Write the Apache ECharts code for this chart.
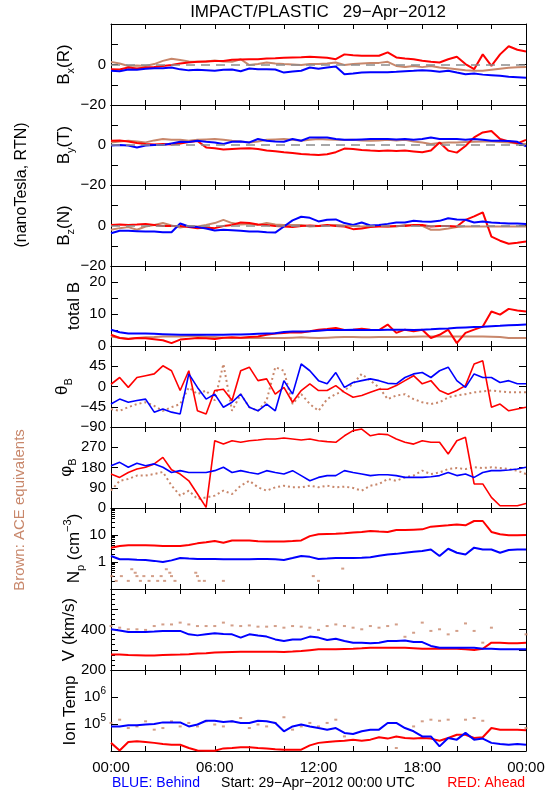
<!DOCTYPE html>
<html><head><meta charset="utf-8">
<script src="https://cdn.jsdelivr.net/npm/echarts@6/dist/echarts.min.js"></script>
<style>html,body{margin:0;padding:0;background:#fff}#c{width:550px;height:800px}</style>
</head><body><div id="c"></div>
<script>
// ---------- data (hours of 29-Apr-2012) ----------
const TIME=[0,0.5,1,1.5,2,2.5,3,3.5,4,4.5,5,5.5,6,6.5,7,7.5,8,8.5,9,9.5,10,10.5,11,11.5,12,12.5,13,13.5,14,14.5,15,15.5,16,16.5,17,17.5,18,18.5,19,19.5,20,20.5,21,21.5,22,22.5,23,23.5,24];
const X_TICK_LABELS=['00:00','06:00','12:00','18:00','00:00'];

const bxAhead=[-2.3,-2.5,-1.5,-2.0,-1.5,-1.2,-0.7,-0.2,0.5,1.0,1.3,1.5,1.7,1.7,2.3,2.5,2.6,2.6,3.0,3.1,3.3,3.5,3.6,3.8,3.6,3.3,2.6,5.0,4.6,4.3,4.3,4.3,6.0,3.5,3.0,2.6,1.8,1.3,1.0,2.6,3.8,0.2,-2.3,5.0,-0.7,5.0,9.0,7.3,6.4];
const bxBehind=[-3.1,-3.3,-2.5,-2.6,-2.1,-1.8,-1.8,-1.5,-2.4,-2.9,-2.6,-2.8,-3.1,-2.6,-2.5,-3.3,-2.0,-2.3,-2.3,-2.5,-4.0,-3.5,-3.1,-1.5,-2.1,-1.5,-1.0,-4.8,-4.5,-4.0,-3.8,-3.8,-3.8,-3.6,-3.3,-3.1,-2.8,-3.1,-3.6,-3.1,-4.0,-4.8,-4.5,-5.0,-5.3,-5.6,-6.0,-6.3,-6.6];
const bxAce=[1.3,0.5,-0.7,-0.5,-0.7,0.2,1.8,2.8,2.2,1.5,1.3,1.5,2.0,1.5,1.3,2.6,-0.3,0.3,1.0,0.5,0.2,0.0,-0.3,0.2,0.2,0.5,1.0,-0.2,0.2,0.5,0.7,0.8,1.3,-0.7,-1.2,-0.7,-1.3,-0.7,-1.5,-1.8,-2.3,-2.8,-3.1,-3.1,-2.6,-2.1,-1.6,-1.4,-1.2];

const byAhead=[2.1,2.3,1.8,1.0,0.5,0.3,0.5,0.2,0.8,1.5,2.0,-1.2,-1.6,-2.3,-2.0,-1.8,-1.6,-2.0,-2.8,-3.1,-3.6,-4.0,-4.5,-4.8,-5.0,-4.6,-3.6,-1.8,-2.0,-2.5,-2.8,-3.0,-2.8,-3.0,-2.8,-3.2,-3.6,-2.8,1.3,-2.8,-3.8,-0.5,3.8,6.3,7.0,3.0,1.8,0.8,2.6];
const byBehind=[-0.3,0.0,-0.3,-1.2,-0.3,0.0,0.0,0.8,1.6,1.5,2.1,1.6,1.3,0.5,1.6,1.8,1.3,3.0,2.1,1.8,1.6,3.0,2.1,3.8,3.8,3.8,3.0,2.6,2.6,2.8,3.0,3.0,3.0,2.8,3.0,2.6,3.0,3.8,3.0,3.0,3.0,2.6,3.0,2.6,2.1,2.1,2.0,1.6,-0.7];
const byAce=[1.3,1.8,2.1,1.8,1.3,2.3,3.0,2.6,2.6,2.1,2.6,2.8,3.0,2.6,2.1,1.8,1.3,1.8,2.6,2.8,3.0,2.6,2.1,2.6,3.0,2.8,2.6,2.5,2.6,2.3,2.1,2.3,2.6,2.3,2.6,1.8,1.3,0.5,1.0,1.3,1.3,1.5,1.6,1.7,1.8,1.5,1.3,0.8,0.5];

const bzAhead=[0.3,0.5,0.3,0.5,0.8,0.3,-0.2,-0.2,-0.2,-0.8,-1.3,-1.0,-1.3,-0.3,0.3,1.5,1.2,0.5,0.3,-0.2,-0.5,-0.8,-0.2,0.0,-0.2,0.3,-0.2,-0.5,-1.8,-1.5,-0.8,-0.5,-0.5,-0.2,-0.2,0.3,0.3,-0.5,-0.2,-0.3,-0.5,2.8,4.5,6.5,-5.5,-7.5,-9.0,-8.5,-7.9];
const bzBehind=[-3.8,-2.6,-2.6,-2.8,-3.0,-3.0,-3.3,-3.3,1.0,-0.5,-0.8,-1.5,-2.5,-2.1,-2.3,-2.6,-3.0,-3.0,-3.3,-3.5,-0.5,2.5,4.3,3.8,2.0,2.8,3.0,1.2,0.3,1.5,0.0,0.3,0.8,1.5,1.5,2.3,2.0,1.8,2.3,3.6,3.0,2.8,1.5,2.0,1.5,1.2,1.0,1.0,0.8];
const bzAce=[-2.1,-1.3,-0.8,-2.1,-0.5,0.3,1.2,0.0,-1.0,-0.3,-0.5,0.3,1.2,2.8,1.2,0.5,0.8,0.3,1.2,0.5,0.3,0.3,0.3,-0.5,-0.2,0.0,0.3,0.0,-0.2,-0.5,-0.2,-0.3,-0.5,-0.5,0.3,0.0,-0.2,-2.1,-2.1,-1.5,-0.8,-0.5,-0.5,-0.5,-0.5,-0.5,-0.5,-0.5,-0.5];

const btAhead=[3.5,2.5,2.2,2.5,2.4,2.1,1.8,0.9,2.0,2.3,2.5,2.4,2.2,2.6,2.7,2.6,2.8,3.0,3.5,3.9,4.1,4.3,4.2,4.6,5.1,5.3,5.6,5.0,5.1,5.4,5.1,5.0,6.7,4.1,5.1,4.6,5.1,2.5,3.5,5.1,0.9,4.1,5.1,6.1,10.8,9.8,11.6,11.1,10.8];
const btBehind=[5.1,4.3,3.9,3.9,3.9,3.8,3.7,3.6,3.5,3.5,3.5,3.5,3.5,3.5,3.6,3.6,3.7,3.8,3.9,4.0,4.4,4.5,4.5,4.6,4.8,5.0,5.0,5.0,5.1,5.0,5.0,5.0,5.1,5.1,5.1,5.0,5.1,5.2,5.4,5.5,5.7,5.8,5.9,6.0,6.2,6.3,6.5,6.6,6.7];
const btAce=[3.0,2.6,2.3,2.5,2.7,2.8,3.0,3.0,3.0,3.1,3.2,2.9,2.8,2.6,2.5,2.5,2.5,2.5,2.5,2.5,2.5,2.6,2.7,2.6,2.5,2.6,2.7,2.8,2.8,2.7,2.7,2.8,2.8,2.8,2.8,2.9,3.0,3.0,3.0,3.0,3.0,3.0,3.0,3.0,2.9,2.8,2.5,2.5,2.5];

const thAhead=[5,20,-2,20,24,28,46,35,-9,35,-54,-61,-9,-6,-31,35,43,13,17,-17,-2,-35,-9,6,-9,-9,2,-13,-24,-20,-13,-6,-6,2,13,24,6,13,-9,-17,-9,2,50,57,-46,-39,-54,-50,-46];
const thBehind=[-39,-28,-35,-31,-28,-57,-50,-57,-61,28,-2,-28,-17,-46,-35,-17,-46,-54,-39,-54,13,-17,50,35,13,6,31,-2,9,13,17,13,7,6,20,28,31,20,35,43,13,-2,28,20,20,9,13,6,6];
const thAce=[-50,-54,-46,-39,-35,-43,-54,-46,-39,-2,-17,-9,-31,50,-54,-17,-46,-54,-31,43,35,-39,-17,-39,-54,-28,-17,-9,6,28,13,-2,-28,-20,-17,-28,-35,-39,-35,-24,-20,-17,-13,-11,-9,-11,-13,-13,-13];

const phAhead=[151,136,158,173,181,196,225,170,151,121,62,3,299,284,299,292,299,302,307,307,311,307,302,307,299,295,292,321,344,351,321,329,326,307,292,284,299,292,292,240,299,314,107,107,47,10,10,10,20];
const phBehind=[188,203,181,199,188,196,181,158,166,158,158,158,166,181,158,166,158,151,166,158,151,166,144,121,136,144,144,166,158,151,144,148,148,144,136,136,136,139,144,158,144,151,136,158,166,166,169,173,181];
const phAce=[77,121,129,144,144,151,160,100,55,77,40,47,55,77,62,99,121,92,77,92,99,92,92,99,92,99,92,95,89,77,99,107,129,121,136,144,166,151,158,173,178,173,181,178,181,178,173,166,151];

const npAhead=[3.4,3.9,4.2,4.2,4.2,4.1,3.9,3.9,3.9,4.3,4.9,5.4,6.0,5.2,6.3,6.3,6.3,5.9,5.7,5.7,5.8,6.0,6.3,9.1,10.6,11.0,11.2,11.5,12.3,13.0,14.2,13.5,13.0,15.4,15.4,15.8,16.2,20.4,21.6,22.9,24.7,22.9,33,33,13,10.6,9.7,9.7,10];
const npBehind=[1.67,1.26,1.26,1.22,1.19,1.1,1.0,1.15,1.41,1.35,1.3,1.3,1.3,1.26,1.26,1.26,1.26,1.3,1.3,1.26,1.19,1.4,1.67,1.55,1.3,1.35,1.41,1.41,1.41,1.45,1.5,1.7,1.9,2.0,2.2,2.4,2.55,2.9,1.67,3.1,2.2,1.9,3.4,2.9,2.9,2.2,2.8,2.9,2.9];
const npAceTime=[0.05,0.3,0.6,1.0,1.2,1.4,1.5,1.7,1.9,2.2,2.4,2.7,2.9,3.1,3.2,3.4,3.5,3.7,4.9,5.0,5.1,5.4,6.5,11.7,12.0,13.4];
const npAce=[0.30,0.20,0.30,0.20,0.54,0.40,0.30,0.20,0.30,0.20,0.30,0.20,0.30,0.20,0.54,0.40,0.30,0.20,0.40,0.30,0.20,0.20,0.20,0.30,0.20,0.57];

const vAhead=[277,276,274,273,272,272,274,275,276,278,281,283,286,288,289,290,290,290,290,290,289,291,294,298,302,302,302,304,305,307,310,310,310,310,310,308,305,305,305,305,305,302,299,305,335,335,332,332,335];
const vBehind=[401,395,388,388,388,390,393,393,393,376,371,376,381,378,376,360,376,370,365,351,343,351,351,365,360,348,354,343,335,335,332,335,343,343,346,338,338,319,310,310,310,310,310,305,305,302,302,302,302];
const vAce=[417,409,401,401,398,417,425,425,434,425,417,417,417,434,420,417,420,414,414,417,409,417,414,409,398,417,425,417,409,401,417,409,417,425,364,384,434,393,401,376,393,430,393,335,409,null,null,null,376];

const tAhead=[20000,10500,21400,22900,21400,20000,18200,17000,17000,12900,10500,10300,10200,12500,12900,13800,13800,12900,12300,11500,11200,11200,11200,16200,20000,21400,22900,24000,26300,24000,26300,32400,28800,34700,30200,28800,30200,28800,24000,30200,39800,39800,30200,32400,70800,61700,61700,61700,58900];
const tBehind=[81300,81300,89100,89100,95500,100000,114800,114800,114800,81300,95500,131800,131800,117500,125900,109600,109600,131800,125900,109600,53700,81300,95500,81300,70800,61700,70800,46800,42700,53700,61700,61700,109600,109600,70800,53700,34700,34700,14800,30200,26300,46800,26300,28800,20000,18200,17000,18200,17000];
const tAce=[109600,144500,70800,81300,125900,61700,70800,125900,81300,109600,81300,125900,95500,81300,125900,166000,70800,95500,81300,109600,177800,61700,81300,109600,81300,109600,144500,34700,null,null,null,null,null,12900,null,81300,125900,144500,131800,144500,null,144500,166000,131800,null,null,null,null,70800];

// ---------- styling ----------
const FONT='Liberation Sans';
const RED='#ff0000', BLUE='#0000ff', BROWN='#c8876b', BLACK='#000';
const TOPS=[24,105,185,266,346,427,508,589,670,751];
const LEFT=111, RIGHT=24;

function pair(v){return TIME.map((t,i)=>[t,v[i]]);}
function pairT(t,v){return t.map((x,i)=>[x,v[i]]);}
function fmtNum(v){return String(v).replace('-','\u2212');}
function near(a,b){return Math.abs(a-b)<=1e-6*Math.max(1,Math.abs(b));}

const panels=[
 {y:{type:'value',min:-20,max:20,interval:10}, labels:[0,-20], zero:true,
  s:[['line',pair(bxAce),BROWN,2],['line',pair(bxAhead),RED,2],['line',pair(bxBehind),BLUE,2]]},
 {y:{type:'value',min:-20,max:20,interval:10}, labels:[0,-20], zero:true,
  s:[['line',pair(byAce),BROWN,2],['line',pair(byAhead),RED,2],['line',pair(byBehind),BLUE,2]]},
 {y:{type:'value',min:-20,max:20,interval:10}, labels:[0,-20], zero:true,
  s:[['line',pair(bzAce),BROWN,2],['line',pair(bzAhead),RED,2],['line',pair(bzBehind),BLUE,2]]},
 {y:{type:'value',min:0,max:25,interval:5}, labels:[0,10,20],
  s:[['line',pair(btAce),BROWN,2],['line',pair(btAhead),RED,2],['line',pair(btBehind),BLUE,2]]},
 {y:{type:'value',min:-90,max:90,interval:45}, labels:[-90,-45,0,45],
  s:[['dot',pair(thAce),BROWN,2],['line',pair(thAhead),RED,1.6],['line',pair(thBehind),BLUE,1.6]]},
 {y:{type:'value',min:0,max:360,interval:90}, labels:[0,90,180,270],
  s:[['dot',pair(phAce),BROWN,2],['line',pair(phAhead),RED,1.6],['line',pair(phBehind),BLUE,1.6]]},
 {y:{type:'log',logBase:10,min:0.1,max:100}, labels:[1,10], minorLog:true,
  s:[['scatter',pairT(npAceTime,npAce),BROWN,2],['line',pair(npAhead),RED,2],['line',pair(npBehind),BLUE,2]]},
 {y:{type:'value',min:200,max:600,interval:100}, labels:[200,400], minorLin:4,
  s:[['scatter',pair(vAce),BROWN,2],['line',pair(vAhead),RED,2],['line',pair(vBehind),BLUE,2]]},
 {y:{type:'log',logBase:10,min:1e4,max:1e7}, labels:[1e5,1e6], pow:true,
  s:[['scatter',pair(tAce),BROWN,2],['line',pair(tAhead),RED,2],['line',pair(tBehind),BLUE,2]]}
];

const NAMES=[
 {t:'{m|B}{s|x}{m|(R)}',x:64},{t:'{m|B}{s|y}{m|(T)}',x:64},{t:'{m|B}{s|z}{m|(N)}',x:64},
 {t:'{m|total B}',x:74},{t:'{m|\u03b8}{s|B}',x:62},{t:'{m|\u03c6}{s|B}',x:66},
 {t:'{m|N}{s|p}{m| (cm}{u|\u22123}{m|)}',x:74},{t:'{m|V (km/s)}',x:69},{t:'{m|Ion Temp}',x:70}
];

const grids=[],xAxes=[],yAxes=[],series=[],graphics=[];
const tickStyle={color:BLACK,width:1};
const labelBase={color:BLACK,fontFamily:FONT,fontSize:15};

panels.forEach((p,i)=>{
  const last=(i===panels.length-1);
  grids.push({left:LEFT,right:RIGHT,top:TOPS[i],height:TOPS[i+1]-TOPS[i],show:false,containLabel:false});
  ['bottom','top'].forEach(pos=>{
    xAxes.push({type:'value',gridIndex:i,position:pos,min:0,max:24,interval:2,
      axisLine:{show:true,onZero:false,lineStyle:tickStyle},
      axisTick:{show:true,inside:true,length:5,lineStyle:tickStyle},
      axisLabel:{show:last&&pos==='bottom',margin:9,...labelBase,
        formatter:v=>(Math.round(v)%6===0?X_TICK_LABELS[Math.round(v)/6]:'')},
      splitLine:{show:false}});
  });
  ['left','right'].forEach(pos=>{
    const ax=Object.assign({},p.y,{gridIndex:i,position:pos,
      axisLine:{show:true,onZero:false,lineStyle:tickStyle},
      axisTick:{show:true,inside:true,length:7,lineStyle:tickStyle},
      splitLine:{show:false},
      axisLabel:{show:pos==='left',margin:5,...labelBase,
        formatter:v=>{
          const ok=p.labels.some(l=>near(v,l));
          if(!ok) return '';
          if(p.pow) return '{b|10}{sup|'+Math.round(Math.log10(v))+'}';
          return fmtNum(v);
        },
        rich:{b:{fontFamily:FONT,fontSize:15,color:BLACK,lineHeight:22,verticalAlign:'middle'},
              sup:{fontFamily:FONT,fontSize:10,color:BLACK,lineHeight:22,verticalAlign:'top'}}}
    });
    if(p.minorLin && pos==='left'){ax.minorTick={show:true,splitNumber:p.minorLin,length:4,lineStyle:tickStyle};}
    yAxes.push(ax);
  });
  p.s.forEach(([kind,data,color,w],k)=>{
    const base={xAxisIndex:2*i,yAxisIndex:2*i,data:data,silent:true,animation:false};
    if(kind==='line'){
      series.push(Object.assign(base,{type:'line',showSymbol:false,symbol:'none',connectNulls:false,
        lineStyle:{color:color,width:w},itemStyle:{color:color},z:2+k}));
    } else if(kind==='dot'){
      series.push(Object.assign(base,{type:'line',showSymbol:false,symbol:'none',
        lineStyle:{color:color,width:w,type:[2,3]},itemStyle:{color:color},z:2+k}));
    } else {
      series.push(Object.assign(base,{type:'scatter',symbol:'rect',symbolSize:[3,2],
        itemStyle:{color:color},z:2+k}));
    }
    if(p.zero && k===0){
      series[series.length-1].markLine={silent:true,symbol:'none',label:{show:false},animation:false,
        lineStyle:{color:'#8c8c8c',type:[9,6],width:1.5},data:[{yAxis:0}]};
    }
  });
  const cy=(TOPS[i]+TOPS[i+1])/2;
  graphics.push({type:'text',x:NAMES[i].x,y:cy,rotation:Math.PI/2,silent:true,
    style:{text:NAMES[i].t,align:'center',verticalAlign:'middle',fill:BLACK,
      rich:{m:{fontFamily:FONT,fontSize:17,fill:BLACK,lineHeight:24,verticalAlign:'middle'},
            s:{fontFamily:FONT,fontSize:11,fill:BLACK,lineHeight:24,verticalAlign:'bottom'},
            u:{fontFamily:FONT,fontSize:11,fill:BLACK,lineHeight:24,verticalAlign:'top'}}}});
});

// log minor ticks for the density panel (left side)
const npMinor=[0.2,0.3,0.4,0.5,0.6,0.7,0.8,0.9,2,3,4,5,6,7,8,9,20,30,40,50,60,70,80,90];
yAxes.push({type:'log',logBase:10,min:0.1,max:100,gridIndex:6,position:'left',
  axisLine:{show:false},axisLabel:{show:false},splitLine:{show:false},
  axisTick:{show:true,inside:true,length:4,lineStyle:tickStyle,customValues:npMinor}});

graphics.push(
 {type:'text',x:318,y:12,silent:true,style:{text:'IMPACT/PLASTIC   29\u2212Apr\u22122012',align:'center',verticalAlign:'middle',fill:BLACK,font:'17px "Liberation Sans"'}},
 {type:'text',x:22,y:185,rotation:Math.PI/2,silent:true,style:{text:'(nanoTesla, RTN)',align:'center',verticalAlign:'middle',fill:BLACK,font:'16px "Liberation Sans"'}},
 {type:'text',x:20,y:510,rotation:Math.PI/2,silent:true,style:{text:'Brown: ACE equivalents',align:'center',verticalAlign:'middle',fill:BROWN,font:'15px "Liberation Sans"'}},
 {type:'text',x:112,y:783,silent:true,style:{text:'BLUE: Behind',align:'left',verticalAlign:'middle',fill:BLUE,font:'14px "Liberation Sans"'}},
 {type:'text',x:318,y:783,silent:true,style:{text:'Start: 29\u2212Apr\u22122012 00:00 UTC',align:'center',verticalAlign:'middle',fill:BLACK,font:'14px "Liberation Sans"'}},
 {type:'text',x:525,y:783,silent:true,style:{text:'RED: Ahead',align:'right',verticalAlign:'middle',fill:RED,font:'14px "Liberation Sans"'}}
);

const chart=echarts.init(document.getElementById('c'),null,{renderer:'canvas'});
chart.setOption({animation:false,backgroundColor:'#fff',grid:grids,xAxis:xAxes,yAxis:yAxes,series:series,graphic:graphics});
</script></body></html>
